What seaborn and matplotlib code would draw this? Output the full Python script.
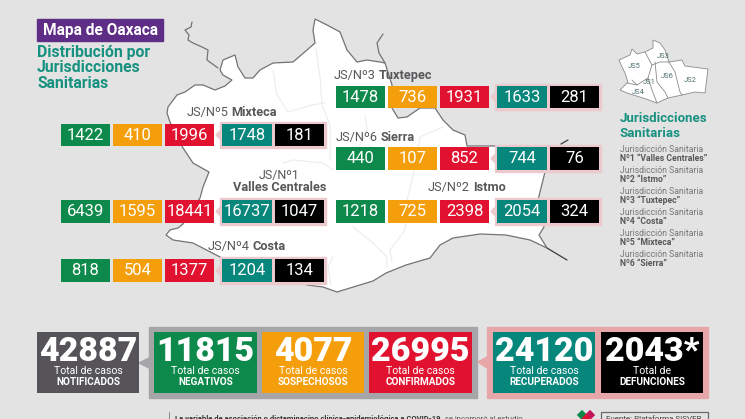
import numpy as np
import pandas as pd
import matplotlib
matplotlib.use('Agg')
import matplotlib.pyplot as plt
from matplotlib.colors import ListedColormap
from matplotlib.patches import Polygon, Rectangle
import seaborn as sns

sns.set_style('white')
plt.rcParams['font.family'] = ['Roboto', 'DejaVu Sans']

# values per jurisdiction
regions = ['Tuxtepec', 'Sierra', 'Mixteca', 'Valles', 'Istmo', 'Costa']
negativos = [1478, 440, 1422, 6439, 1218, 818]
sospechosos = [736, 107, 410, 1595, 725, 504]
confirmados = [1931, 852, 1996, 18441, 2398, 1377]
recuperados = [1633, 744, 1748, 16737, 2054, 1204]
defunciones = [281, 76, 181, 1047, 324, 134]

# state totals
total_names = ['NOTIFICADOS', 'NEGATIVOS', 'SOSPECHOSOS', 'CONFIRMADOS', 'RECUPERADOS', 'DEFUNCIONES']
total_values = [42887, 11815, 4077, 26995, 24120, 2043]

legend_names = ['Nº1 “Valles Centrales”', 'Nº2 “Istmo”', 'Nº3 “Tuxtepec”',
                'Nº4 “Costa”', 'Nº5 “Mixteca”', 'Nº6 “Sierra”']

BG = '#e3e3e4'
GREEN = '#0d8a4b'
ORANGE = '#f59e0b'
RED = '#e1122f'
TEAL = '#07867c'
BLACK = '#000000'
DARK = '#565459'
TXT = '#58585b'
TITLE = '#17917f'
colors = [GREEN, ORANGE, RED, TEAL, BLACK]

# map, in pixels
state_outline = [(168, 107), (177, 95), (185, 92), (195, 85), (203, 85), (215, 90), (225, 86), (232, 80),
                 (223, 75), (220, 70), (223, 60), (235, 55), (238, 67), (245, 78), (253, 78), (260, 70),
                 (273, 63), (293, 62), (307, 50), (315, 43), (313, 30), (315, 19), (327, 25), (340, 32),
                 (347, 50), (357, 62), (367, 60), (380, 62), (385, 63), (392, 85), (392, 108), (398, 118),
                 (407, 117), (420, 108), (435, 108), (443, 120), (453, 130), (465, 135), (467, 146), (500, 146),
                 (545, 172), (538, 200), (544, 227), (539, 235), (547, 248), (530, 240), (506, 235), (480, 234),
                 (453, 238), (440, 245), (430, 258), (406, 265), (386, 273), (373, 281), (350, 288), (337, 292),
                 (323, 287), (307, 285), (290, 278), (222, 258), (193, 243), (173, 240), (166, 235), (170, 230),
                 (178, 228), (183, 224), (200, 198), (203, 187), (209, 172), (193, 163), (183, 148), (170, 122),
                 (167, 113)]
north_spur = [(192, 22), (191, 27), (185, 30), (189, 35), (188, 40), (193, 43), (202, 47), (208, 50),
              (207, 60), (218, 68)]
east_spur = [(383, 34), (377, 43), (379, 53), (385, 63)]
isthmus_spurs = [[(547, 248), (567, 260)], [(561, 144), (568, 140)]]
inner_lines = [[(273, 70), (277, 95), (288, 112), (312, 105), (325, 103)],
               [(316, 48), (320, 77), (322, 105), (330, 125), (330, 160)],
               [(283, 163), (293, 160), (323, 163), (333, 170)],
               [(365, 115), (367, 130), (360, 145)],
               [(443, 127), (420, 137), (413, 177), (407, 200), (405, 230), (390, 250), (392, 262)],
               [(353, 227), (373, 243), (387, 257), (387, 268)],
               [(333, 257), (328, 267), (331, 285)]]

# small key map, in pixels
key_outline = [(619, 60), (630, 55), (632, 49), (637, 54), (645, 52), (653, 48), (653, 40), (660, 43),
               (665, 50), (669, 62), (682, 60), (685, 66), (708, 69), (705, 93), (695, 92), (682, 95),
               (668, 98), (657, 103), (643, 98), (627, 93), (620, 90), (628, 82), (625, 73), (622, 67)]
key_lines = [[(645, 52), (652, 65), (648, 78), (637, 85), (632, 80)],
             [(652, 65), (660, 62), (669, 62)],
             [(655, 62), (657, 82), (665, 92), (668, 98)],
             [(669, 62), (675, 72), (680, 92), (682, 95)],
             [(648, 78), (652, 90), (657, 103)],
             [(627, 83), (637, 85)]]
key_labels = ['JS5', 'JS1', 'JS3', 'JS6', 'JS2', 'JS4']
key_label_pos = [(634, 67), (649, 83), (663, 56), (667, 77), (690, 80), (638, 93)]

W, H = 745, 419
fig = plt.figure(figsize=(W / 100, H / 100), dpi=100, facecolor=BG)
ax = fig.add_axes([0, 0, 1, 1])
ax.set_xlim(0, W)
ax.set_ylim(H, 0)
ax.axis('off')


def tile(x0, y0, x1, y1, value, color, label=None, size=12, weight='normal', text_y=0.5):
    # one coloured box is a 1x1 seaborn heatmap in its own axes
    inset = fig.add_axes([x0 / W, 1 - y1 / H, (x1 - x0) / W, (y1 - y0) / H])
    sns.heatmap(pd.DataFrame([[value]]), annot=np.array([[label or str(value)]]), fmt='',
                cmap=ListedColormap([color]), cbar=False, xticklabels=False, yticklabels=False,
                annot_kws={'color': 'white', 'fontsize': size, 'fontweight': weight},
                ax=inset)
    inset.texts[0].set_y(text_y)
    return inset


def heading(x, y, light, strong, size=9.2):
    t = ax.text(x, y, light, color=TXT, fontsize=size, va='center')
    ax.annotate(strong, xy=(1, 0.5), xycoords=t, xytext=(2, 0), textcoords='offset points',
                color=TXT, fontsize=size, fontweight='bold', va='center')


# state map
ax.add_patch(Polygon(state_outline, closed=True, facecolor='white', edgecolor='#737376', lw=0.9))
for line in inner_lines:
    ax.plot(*zip(*line), color='#ececec', lw=0.8)
for line in [north_spur, east_spur]:
    ax.plot(*zip(*line), color='#737376', lw=0.9)
for line in isthmus_spurs:
    ax.plot(*zip(*line), color='#3c3c3e', lw=0.9)

# title block
ax.add_patch(Rectangle((37, 19), 126, 22, color='#5e2d86'))
ax.text(43, 30.5, 'Mapa de Oaxaca', color='white', fontsize=11.2, fontweight='bold', va='center')
for i, line in enumerate(['Distribución por', 'Jurisdicciones', 'Sanitarias']):
    ax.text(37, 52 + i * 16, line, color=TITLE, fontsize=11.3, fontweight='bold', va='center')

# region rows
row_x = {'left': [(60.5, 110), (112.5, 162), (164.5, 214), (222, 272), (275, 324)],
         'right': [(336, 385), (388, 437), (440, 489), (497, 547), (550, 599)]}
row_pos = {'Tuxtepec': ('right', 86, 108), 'Sierra': ('right', 147, 170), 'Mixteca': ('left', 124, 146),
           'Valles': ('left', 200, 223), 'Istmo': ('right', 200, 223), 'Costa': ('left', 259, 282)}
for i, name in enumerate(regions):
    side, y0, y1 = row_pos[name]
    xs = row_x[side]
    vals = [negativos[i], sospechosos[i], confirmados[i], recuperados[i], defunciones[i]]
    ax.add_patch(Rectangle((xs[3][0] - 2, y0 - 2), xs[4][1] - xs[3][0] + 4, y1 - y0 + 4, color='#ebc9cd'))
    mid = (y0 + y1) / 2
    ax.add_patch(Polygon([(xs[3][0] - 6, mid), (xs[3][0] - 2, mid - 4), (xs[3][0] - 2, mid + 4)], color='#ebc9cd'))
    for (x0, x1), v, c in zip(xs, vals, colors):
        tile(x0, y0, x1, y1, v, c)

heading(187, 112, 'JS/Nº5', 'Mixteca')
heading(334, 76, 'JS/Nº3', 'Tuxtepec')
heading(336, 137, 'JS/Nº6', 'Sierra')
heading(428, 187, 'JS/Nº2', 'Istmo')
heading(208, 246, 'JS/Nº4', 'Costa')
ax.text(279, 175, 'JS/Nº1', color=TXT, fontsize=9, va='center', ha='center')
ax.text(280, 187, 'Valles Centrales', color=TXT, fontsize=9.2, fontweight='bold', va='center', ha='center')

# totals
ax.add_patch(Rectangle((149, 327), 328, 71, color='#a6a6a9'))
ax.add_patch(Polygon([(139, 363), (149, 358), (149, 368)], color='#a6a6a9'))
ax.add_patch(Rectangle((487, 327), 221, 71, color='#e7a6a8'))
ax.add_patch(Polygon([(478, 362), (487, 357), (487, 368)], color='#e7a6a8'))
total_x = [(37, 139), (154, 257), (262, 364), (369, 472), (493, 595), (601, 703)]
total_colors = [DARK, GREEN, ORANGE, RED, TEAL, BLACK]
for (x0, x1), name, v, c in zip(total_x, total_names, total_values, total_colors):
    star = '*' if name == 'DEFUNCIONES' else ''
    inset = tile(x0, 332, x1, 393, v, c, label=f'{v}{star}', size=24.5, weight='black', text_y=0.32)
    sub = 'Total de' if name == 'DEFUNCIONES' else 'Total de casos'
    inset.text(0.5, 0.645, sub, color='white', fontsize=7.6, ha='center', va='center')
    inset.text(0.5, 0.82, name, color='white', fontsize=7.2, fontweight='bold', ha='center', va='center')

# key map and legend on the right
ax.add_patch(Polygon(key_outline, closed=True, facecolor='white', edgecolor='#8a8a8d', lw=0.6))
for line in key_lines:
    ax.plot(*zip(*line), color='#8a8a8d', lw=0.6)
for lab, (x, y) in zip(key_labels, key_label_pos):
    ax.text(x, y, lab, color='#4b6f6c', fontsize=5.4, ha='center', va='center')
ax.text(620, 118, 'Jurisdicciones', color=TITLE, fontsize=9.5, fontweight='bold', va='center')
ax.text(620, 133, 'Sanitarias', color=TITLE, fontsize=9.5, fontweight='bold', va='center')
for i, name in enumerate(legend_names):
    ax.text(620, 149 + i * 21, 'Jurisdicción Sanitaria', color='#77777a', fontsize=6.2, va='center')
    ax.text(620, 158 + i * 21, name, color=TXT, fontsize=6.2, fontweight='bold', va='center')

# footer, cut by the bottom edge like the source
ax.plot([169, 169], [412, 419], color='#777777', lw=0.6)
foot = ax.text(175, 418.5, 'La variable de asociación o dictaminacino clínica-epidemiológica a COVID-19,',
               color='#333333', fontsize=5.5, fontweight='bold', va='center')
ax.annotate('se incorporó al estudio', xy=(1, 0.5), xycoords=foot, xytext=(2, 0), textcoords='offset points',
            color='#555555', fontsize=5.5, va='center')
ax.add_patch(Rectangle((600.5, 411.5), 107, 12, facecolor='none', edgecolor='#6b6b6e', lw=0.9))
ax.text(606, 418.5, 'Fuente: Plataforma SISVER', color='#444444', fontsize=5.8, va='center')
ax.scatter([582, 590, 586], [415, 415, 418], s=[28, 28, 18], c=[GREEN, '#c2185b', RED], marker='D', linewidths=0)

fig.savefig('out.png', dpi=100, facecolor=BG)
